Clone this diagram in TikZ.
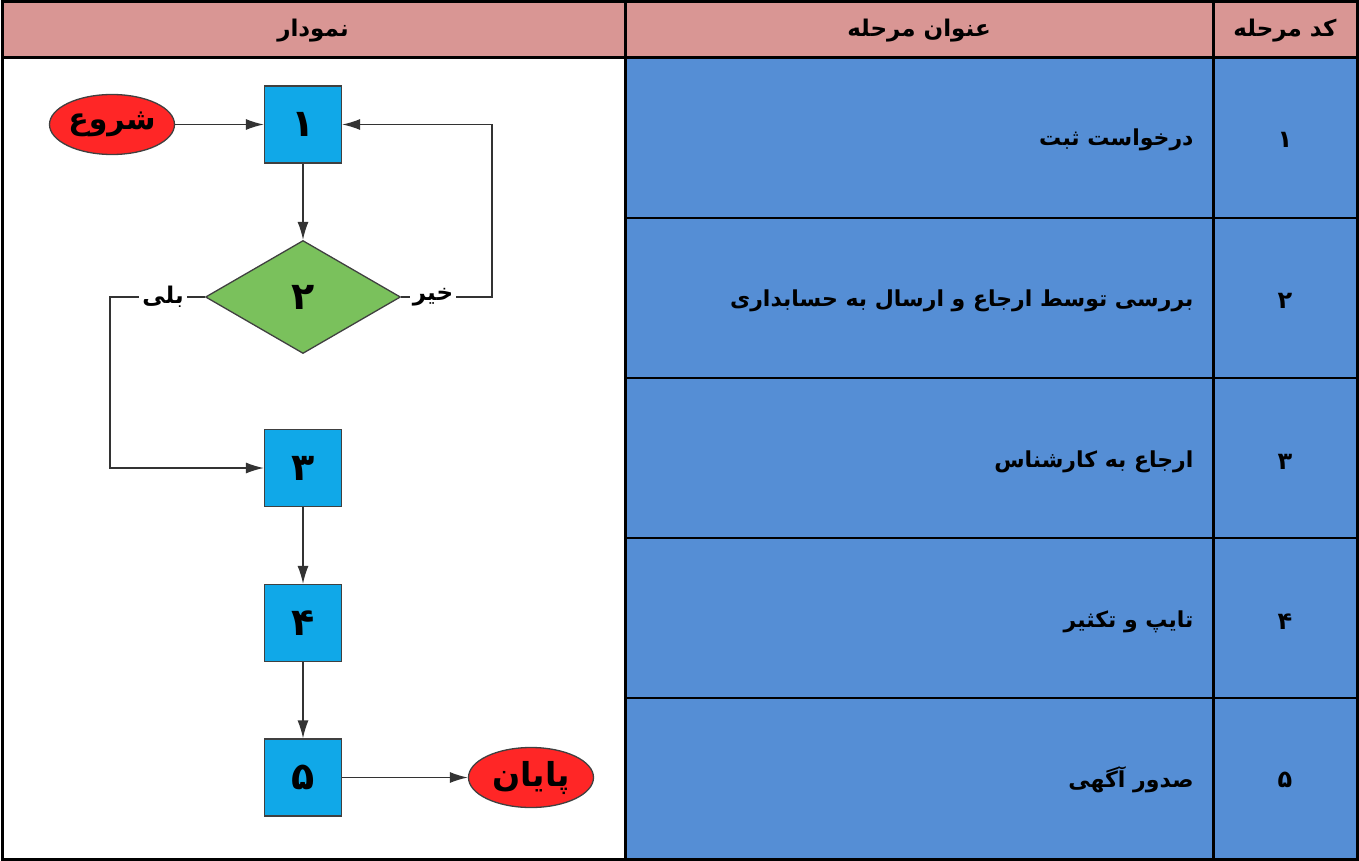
\documentclass[tikz,border=0pt]{standalone}
\usepackage{fontspec}
\usetikzlibrary{shapes.geometric,arrows.meta}
\TeXXeTstate=1
\newfontfamily\arabicfont[Script=Arabic]{DejaVu Sans}
\definecolor{hdr}{HTML}{D99694}
\definecolor{cellc}{HTML}{558ED5}
\definecolor{boxc}{HTML}{10A8E8}
\definecolor{diac}{HTML}{7AC15C}
\definecolor{ellc}{HTML}{FF2626}
\newcommand{\fa}[2]{{\arabicfont\bfseries\fontsize{#1}{#1}\selectfont #2}}
\tikzset{
  stepbox/.style={draw=black!75, fill=boxc, line width=1.3pt, minimum width=77pt, minimum height=77pt, inner sep=0pt},
  decis/.style={diamond, draw=black!75, fill=diac, line width=1.3pt, minimum width=195pt, minimum height=113pt, inner sep=0pt},
  term/.style={ellipse, draw=black!75, fill=ellc, line width=1.3pt, minimum width=125pt, minimum height=60pt, inner sep=0pt},
  conn/.style={draw=black!80, line width=1.4pt, -{Latex[length=18pt,width=11pt]}},
  lbl/.style={fill=white, inner sep=3pt},
  cellline/.style={line width=1.5pt, black},
  frame/.style={line width=3pt, black}
}
\begin{document}
\begin{tikzpicture}[x=1pt,y=-1pt]
\useasboundingbox (0,0) rectangle (1359,861);
% table backgrounds
\fill[white] (0,0) rectangle (1359,861);
\fill[hdr] (2,2) rectangle (1357,58);
\fill[cellc] (625,58) rectangle (1357,859);
% row lines
\foreach \y in {218,378,538,698} \draw[cellline] (625,\y) -- (1357,\y);
% frame lines
\draw[frame] (2,58) -- (1357,58);
\draw[frame] (625,2) -- (625,859);
\draw[frame] (1213,2) -- (1213,859);
\draw[frame] (2,2) rectangle (1357,859);
% headers
\node (h1) at (313,31) {\fa{23}{\beginR نمودار\endR}};
\node (h2) at (919,31) {\fa{23}{\beginR عنوان مرحله\endR}};
\node (h3) at (1285,31) {\fa{23}{\beginR کد مرحله\endR}};
% rows
\node[anchor=east] (t1) at (1197,140) {\fa{22}{\beginR درخواست ثبت\endR}};
\node[anchor=east] (t2) at (1197,301) {\fa{22}{\beginR بررسی توسط ارجاع و ارسال به حسابداری\endR}};
\node[anchor=east] (t3) at (1197,462) {\fa{22}{\beginR ارجاع به کارشناس\endR}};
\node[anchor=east] (t4) at (1197,622) {\fa{22}{\beginR تایپ و تکثیر\endR}};
\node[anchor=east] (t5) at (1197,780) {\fa{22}{\beginR صدور آگهی\endR}};
\node (c1) at (1285,140) {\fa{24}{\beginR ۱\endR}};
\node (c2) at (1285,301) {\fa{24}{\beginR ۲\endR}};
\node (c3) at (1285,462) {\fa{24}{\beginR ۳\endR}};
\node (c4) at (1285,622) {\fa{24}{\beginR ۴\endR}};
\node (c5) at (1285,780) {\fa{24}{\beginR ۵\endR}};
% flowchart
\node[term] (st) at (112,124.5) {\fa{30}{\beginR شروع\endR}};
\node[stepbox] (b1) at (303,124.5) {\fa{38}{\beginR ۱\endR}};
\node[decis] (d2) at (303,297) {\fa{38}{\beginR ۲\endR}};
\node[stepbox] (b3) at (303,468) {\fa{38}{\beginR ۳\endR}};
\node[stepbox] (b4) at (303,623) {\fa{38}{\beginR ۴\endR}};
\node[stepbox] (b5) at (303,777.5) {\fa{38}{\beginR ۵\endR}};
\node[term] (en) at (531,777.5) {\fa{33}{\beginR پایان\endR}};
\coordinate (nr) at (492,297);
\coordinate (nl) at (110,297);
\draw[conn] (st) -- (b1);
\draw[conn] (b1) -- (d2);
\draw[conn] (d2.east) -- node[lbl,pos=0.35]{\fa{23}{\beginR خیر\endR}} (nr) |- (b1.east);
\draw[conn] (d2.west) -- node[lbl,pos=0.44]{\fa{23}{\beginR بلی\endR}} (nl) |- (b3.west);
\draw[conn] (b3) -- (b4);
\draw[conn] (b4) -- (b5);
\draw[conn] (b5) -- (en);
\end{tikzpicture}
\end{document}
